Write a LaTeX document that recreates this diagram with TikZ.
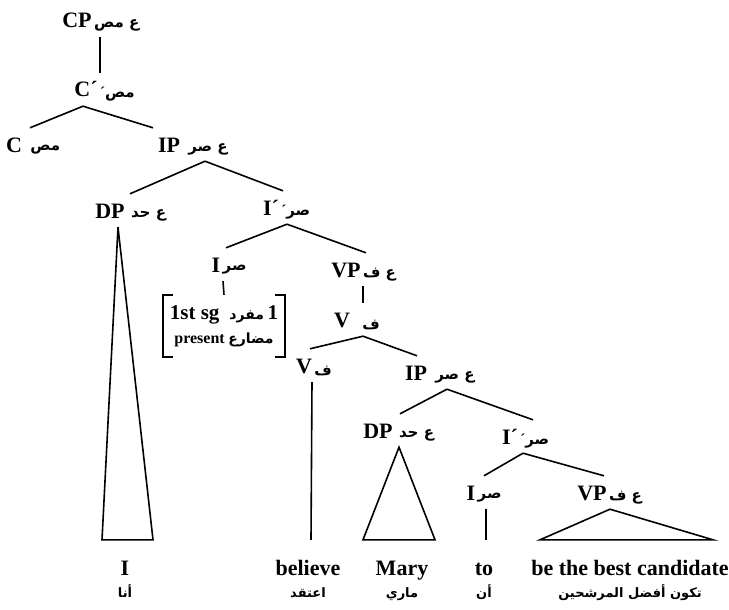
\documentclass[tikz,border=0pt]{standalone}
\usepackage{fontspec}
\setmainfont{Liberation Serif}
\newfontfamily\arabicfont[Script=Arabic]{DejaVu Sans}
\TeXXeTstate=1

\begin{document}
\begin{tikzpicture}[x=1pt, y=-1pt,
    cat/.style={font=\bfseries\fontsize{22}{24}\selectfont, anchor=base, text height=15pt, text depth=0pt, inner ysep=9pt, inner xsep=1pt},
    arlbl/.style={font=\bfseries\fontsize{15}{18}\selectfont, inner sep=1pt, yshift=-5pt},
    leaf/.style={font=\bfseries\fontsize{22}{24}\selectfont, anchor=base, text height=15pt, text depth=0pt, inner ysep=20pt},
    leafar/.style={font=\arabicfont\bfseries\fontsize{13}{16}\selectfont, anchor=base},
    feat/.style={font=\fontsize{21}{26}\selectfont, align=center, minimum width=122pt, minimum height=62pt, inner sep=0pt},
    edge/.style={line width=1.6pt}
]
    \useasboundingbox (0,0) rectangle (729,610);

    % CP and C-bar
    \node[cat, label={[arlbl]east:{\arabicfont\beginR ع مص\endR}}] (cp) at (77,28) {CP};
    \node[cat, label={[arlbl]east:´{\arabicfont\beginR مص\endR}}] (cbar) at (86,97) {C´};
    \node[cat, label={[arlbl, xshift=6pt]east:{\arabicfont\beginR مص\endR}}] (c) at (14,152) {C};
    \node[cat, label={[arlbl, xshift=6pt]east:{\arabicfont\beginR ع صر\endR}}] (ip) at (169,152) {IP};

    % Matrix clause
    \node[cat, label={[arlbl, xshift=4pt]east:{\arabicfont\beginR ع حد\endR}}] (dp) at (110,218) {DP};
    \node[cat, label={[arlbl]east:´{\arabicfont\beginR صر\endR}}] (ibar) at (271,215) {I´};
    \node[cat, label={[arlbl]east:{\arabicfont\beginR صر\endR}}] (infl) at (216,272) {I};
    \node[cat, label={[arlbl]east:{\arabicfont\beginR ع ف\endR}}] (vp) at (346,277) {VP};
    \node[cat, label={[arlbl, xshift=10pt]east:{\arabicfont\beginR ف\endR}}] (vbar) at (342,327) {V};
    \node[cat, label={[arlbl]east:{\arabicfont\beginR ف\endR}}] (verb) at (304,373) {V};

    % Features of I
    \node[feat] (feat) at (224,326) {\textbf{1st sg}\hspace{10pt}{\arabicfont\bfseries\fontsize{14}{17}\selectfont\beginR مفرد\endR}\,\textbf{1}\\[-2pt]
        {\fontsize{16}{18}\selectfont\textbf{present}}\,{\arabicfont\bfseries\fontsize{14}{17}\selectfont\beginR مضارع\endR}};

    % Embedded clause
    \node[cat, label={[arlbl, xshift=6pt]east:{\arabicfont\beginR ع صر\endR}}] (ip2) at (416,380) {IP};
    \node[cat, label={[arlbl, xshift=4pt]east:{\arabicfont\beginR ع حد\endR}}] (dp2) at (378,438) {DP};
    \node[cat, label={[arlbl]east:´{\arabicfont\beginR صر\endR}}] (ibar2) at (510,444) {I´};
    \node[cat, label={[arlbl]east:{\arabicfont\beginR صر\endR}}] (infl2) at (471,500) {I};
    \node[cat, label={[arlbl]east:{\arabicfont\beginR ع ف\endR}}] (vp2) at (592,500) {VP};

    % Leaves
    \node[leaf] (lf1) at (125,575) {I};
    \node[leaf] (lf2) at (308,575) {believe};
    \node[leaf] (lf3) at (402,575) {Mary};
    \node[leaf] (lf4) at (484,575) {to};
    \node[leaf] (lf5) at (630,575) {be the best candidate};
    \node[leafar] (lf1a) at (125,597) {\beginR أنا\endR};
    \node[leafar] (lf2a) at (308,597) {\beginR اعتقد\endR};
    \node[leafar] (lf3a) at (402,597) {\beginR ماري\endR};
    \node[leafar] (lf4a) at (484,597) {\beginR أن\endR};
    \node[leafar] (lf5a) at (630,597) {\beginR تكون أفضل المرشحين\endR};

    % Branches
    \draw[edge] ([xshift=23pt]cp.south) -- ([xshift=14pt]cbar.north);
    \draw[edge] ([xshift=-3pt]cbar.south) -- ([xshift=16pt]c.north);
    \draw[edge] ([xshift=-3pt]cbar.south) -- ([xshift=-16pt]ip.north);
    \draw[edge] ([xshift=36pt]ip.south) -- ([xshift=20pt]dp.north);
    \draw[edge] ([xshift=36pt]ip.south) -- ([xshift=12pt]ibar.north);
    \draw[edge] ([xshift=8pt]dp.south) -- ([xshift=-23pt]lf1.north) -- ([xshift=28pt]lf1.north) -- cycle;
    \draw[edge] ([xshift=16pt]ibar.south) -- ([xshift=10pt]infl.north);
    \draw[edge] ([xshift=16pt]ibar.south) -- ([xshift=20pt]vp.north);
    \draw[edge] ([xshift=7pt]infl.south) -- (feat.north);
    \draw[edge] ([xshift=17pt]vp.south) -- ([xshift=21pt]vbar.north);
    \draw[edge] ([xshift=21pt]vbar.south) -- ([xshift=6pt]verb.north);
    \draw[edge] ([xshift=21pt]vbar.south) -- ([xshift=1pt]ip2.north);
    \draw[edge] ([xshift=8pt]verb.south) -- ([xshift=3pt]lf2.north);
    \draw[edge] ([xshift=31pt]ip2.south) -- ([xshift=22pt]dp2.north);
    \draw[edge] ([xshift=31pt]ip2.south) -- ([xshift=23pt]ibar2.north);
    \draw[edge] ([xshift=21pt]dp2.south) -- ([xshift=-39pt]lf3.north) -- ([xshift=33pt]lf3.north) -- cycle;
    \draw[edge] ([xshift=13pt]ibar2.south) -- ([xshift=13pt]infl2.north);
    \draw[edge] ([xshift=13pt]ibar2.south) -- ([xshift=12pt]vp2.north);
    \draw[edge] ([xshift=15pt]infl2.south) -- ([xshift=2pt]lf4.north);
    \draw[edge] ([xshift=18pt]vp2.south) -- ([xshift=-90pt]lf5.north) -- ([xshift=83pt]lf5.north) -- cycle;

    % Brackets round the features
    \draw[edge] ([xshift=10pt]feat.north west) -- (feat.north west) -- (feat.south west) -- ([xshift=10pt]feat.south west);
    \draw[edge] ([xshift=-10pt]feat.north east) -- (feat.north east) -- (feat.south east) -- ([xshift=-10pt]feat.south east);
\end{tikzpicture}
\end{document}
